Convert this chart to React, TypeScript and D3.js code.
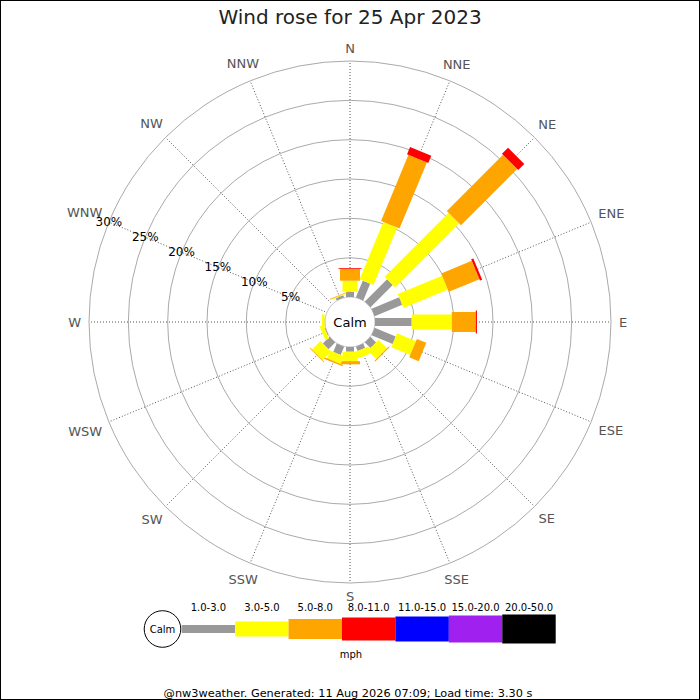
import * as d3 from 'd3'
import { useEffect } from 'react'

// compass points, clockwise from north
const directions = ['N', 'NNE', 'NE', 'ENE', 'E', 'ESE', 'SE', 'SSE', 'S', 'SSW', 'SW', 'WSW', 'W', 'WNW', 'NW', 'NNW']

// speed bands (mph)
const speedBands = ['1.0-3.0', '3.0-5.0', '5.0-8.0', '8.0-11.0', '11.0-15.0', '15.0-20.0', '20.0-50.0']

// % of the day per direction, for each band
const pct1to3 = [0.67, 2.3, 4.0, 3.8, 4.66, 2.9, 1.0, 0.6, 0.6, 1.15, 1.2, 0.1, 0.05, 0, 0, 0.3]
const pct3to5 = [1.4, 7.9, 11.5, 6.1, 5.1, 2.6, 1.5, 0.9, 1.2, 1.05, 1.5, 0.5, 0.35, 0, 0, 0.12]
const pct5to8 = [1.5, 9.1, 10.1, 4.2, 3.05, 1.3, 0.15, 0, 0.4, 0.2, 0.1, 0, 0, 0, 0, 0.08]
const pct8to11 = [0.1, 1.0, 1.1, 0.3, 0.15, 0, 0, 0, 0, 0, 0, 0, 0, 0, 0, 0]
const pct11to15 = [0, 0, 0, 0, 0, 0, 0, 0, 0, 0, 0, 0, 0, 0, 0, 0]
const pct15to20 = [0, 0, 0, 0, 0, 0, 0, 0, 0, 0, 0, 0, 0, 0, 0, 0]
const pct20to50 = [0, 0, 0, 0, 0, 0, 0, 0, 0, 0, 0, 0, 0, 0, 0, 0]

const ringTicks = [5, 10, 15, 20, 25, 30]

const title = 'Wind rose for 25 Apr 2023'
const footer = '@nw3weather. Generated: 11 Aug 2026 07:09; Load time: 3.30 s'

// styling
const bandColors = ['#999999', '#ffff00', '#ffa500', '#ff0000', '#0000ff', '#a020f0', '#000000']
const bandWidths = [8, 15, 20, 23, 25, 27, 29]
const font = '"DejaVu Sans", Verdana, sans-serif'

const W = 700
const H = 700
const cx = 350
const cy = 322
const calmR = 25
const outerR = 261

const measure = (() => {
  const ctx = document.createElement('canvas').getContext('2d')
  return (txt: string, size: number) => {
    if (!ctx) return txt.length * size * 0.65
    ctx.font = `${size}px "DejaVu Sans"`
    return ctx.measureText(txt).width
  }
})()

export default function App() {
  useEffect(() => {
    document.body.style.margin = '0'
  }, [])

  const series = [pct1to3, pct3to5, pct5to8, pct8to11, pct11to15, pct15to20, pct20to50]
  const rows = directions.map((d, i) => {
    const row: Record<string, any> = { dir: d }
    speedBands.forEach((b, j) => (row[b] = series[j][i]))
    return row
  })
  const stacked = d3.stack<Record<string, any>>().keys(speedBands)(rows)

  const r = d3.scaleLinear().domain([0, 30]).range([calmR, outerR])
  const ang = d3.scaleLinear().domain([0, directions.length]).range([0, 360])
  const rad = (deg: number) => (deg * Math.PI) / 180

  const legendX = d3.scaleBand().domain(speedBands).range([181.7, 555.7])
  const legendY = 629

  // percentage labels run along the WNW axis
  const wnw = rad(ang(directions.indexOf('WNW')))

  return (
    <svg width={W} height={H} style={{ position: 'absolute', left: 0, top: 0, display: 'block' }} fontFamily={font}>
      <rect x={0.5} y={0.5} width={W - 1} height={H - 1} fill="#fff" stroke="#000" />
      <text x={W / 2} y={24} textAnchor="middle" fontSize={20} fill="#222">
        {title}
      </text>

      <g transform={`translate(${cx},${cy})`}>
        {ringTicks.map((t) => (
          <circle key={t} r={r(t)} fill="none" stroke="#aaa" strokeWidth={1} />
        ))}
        {directions.map((d, i) => {
          const a = rad(ang(i))
          return (
            <line
              key={d}
              x1={0}
              y1={0}
              x2={Math.sin(a) * outerR}
              y2={-Math.cos(a) * outerR}
              stroke="#555"
              strokeWidth={1}
              strokeDasharray="1,2"
            />
          )
        })}
        {directions.map((d, i) => {
          const a = rad(ang(i))
          const hw = measure(d, 13) / 2
          const hh = 5
          const lr = 269 + hw * Math.abs(Math.sin(a)) + hh * Math.abs(Math.cos(a))
          return (
            <text
              key={d}
              x={Math.sin(a) * lr}
              y={-Math.cos(a) * lr}
              textAnchor="middle"
              dominantBaseline="central"
              fontSize={13}
              fill="#555"
            >
              {d}
            </text>
          )
        })}

        <circle r={calmR} fill="#fff" stroke="#bbb" strokeWidth={0.8} />

        {directions.map((d, i) => (
          <g key={d} transform={`rotate(${ang(i)})`}>
            {stacked.map((s, j) => {
              const [lo, hi] = s[i]
              if (hi - lo <= 0) return null
              const w = bandWidths[j]
              return (
                <rect
                  key={s.key}
                  x={-w / 2}
                  y={-r(hi)}
                  width={w}
                  height={r(hi) - r(lo)}
                  fill={bandColors[j]}
                />
              )
            })}
          </g>
        ))}

        {ringTicks.map((t) => (
          <text
            key={t}
            x={Math.sin(wnw) * r(t)}
            y={-Math.cos(wnw) * r(t)}
            textAnchor="middle"
            dominantBaseline="central"
            fontSize={12}
            fill="#000"
          >
            {t}%
          </text>
        ))}

        <text x={0} y={0} textAnchor="middle" dominantBaseline="central" fontSize={13} fill="#000">
          Calm
        </text>
      </g>

      {/* legend */}
      <g>
        <circle cx={162.5} cy={legendY} r={18.3} fill="#fff" stroke="#000" strokeWidth={1} />
        <text x={162.5} y={legendY} textAnchor="middle" dominantBaseline="central" fontSize={10}>
          Calm
        </text>
        {speedBands.map((b, j) => (
          <g key={b}>
            <rect
              x={legendX(b)}
              y={legendY - bandWidths[j] / 2}
              width={legendX.bandwidth()}
              height={bandWidths[j]}
              fill={bandColors[j]}
            />
            <text
              x={(legendX(b) ?? 0) + legendX.bandwidth() / 2}
              y={607}
              textAnchor="middle"
              dominantBaseline="central"
              fontSize={10}
              fill="#000"
            >
              {b}
            </text>
          </g>
        ))}
        <text x={351} y={654} textAnchor="middle" dominantBaseline="central" fontSize={10}>
          mph
        </text>
      </g>

      <text x={348} y={693} textAnchor="middle" dominantBaseline="central" fontSize={11.3} fill="#000">
        {footer}
      </text>
    </svg>
  )
}
